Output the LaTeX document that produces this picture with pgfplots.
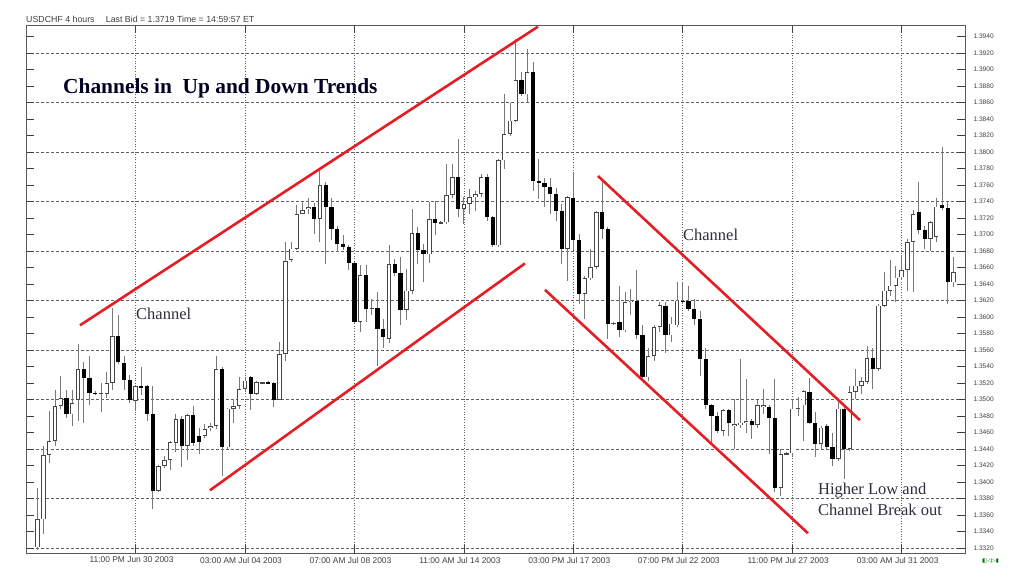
\documentclass[border=0pt]{standalone}
\usepackage{pgfplots}
\usepackage{pgfplotstable}
\pgfplotsset{compat=1.18}
\usepackage{fontspec}
\setmainfont{Liberation Sans}
\newfontfamily\seriffont{Liberation Serif}
\newfontfamily\symfont{DejaVu Sans}
\definecolor{chred}{RGB}{228,30,36}
\definecolor{wick}{RGB}{120,120,120}
\definecolor{upline}{RGB}{70,70,70}
\definecolor{txt}{RGB}{45,45,60}
\pgfplotstableread{
i o h l c
1 1.3321 1.3393 1.3318 1.3355
2 1.3355 1.3444 1.3337 1.3433
3 1.3433 1.3486 1.3423 1.3450
4 1.3450 1.3512 1.3444 1.3492
5 1.3492 1.3528 1.3488 1.3502
6 1.3502 1.3512 1.3478 1.3482
7 1.3482 1.3512 1.3468 1.3496
8 1.3500 1.3567 1.3474 1.3537
9 1.3537 1.3545 1.3472 1.3526
10 1.3526 1.3553 1.3494 1.3508
11 1.3508 1.3510 1.3506 1.3507
12 1.3507 1.3520 1.3485 1.3508
13 1.3507 1.3533 1.3502 1.3520
14 1.3520 1.3611 1.3512 1.3577
15 1.3577 1.3603 1.3543 1.3545
16 1.3545 1.3553 1.3512 1.3524
17 1.3524 1.3530 1.3496 1.3500
18 1.3498 1.3518 1.3486 1.3516
19 1.3516 1.3539 1.3506 1.3515
20 1.3516 1.3518 1.3474 1.3482
21 1.3482 1.3516 1.3367 1.3389
22 1.3389 1.3421 1.3388 1.3419
23 1.3420 1.3432 1.3417 1.3427
24 1.3427 1.3450 1.3415 1.3448
25 1.3448 1.3482 1.3436 1.3476
26 1.3476 1.3480 1.3418 1.3444
27 1.3444 1.3482 1.3427 1.3481
28 1.3481 1.3492 1.3444 1.3448
29 1.3456 1.3466 1.3434 1.3448
30 1.3456 1.3470 1.3454 1.3464
31 1.3466 1.3472 1.3462 1.3468
32 1.3468 1.3553 1.3464 1.3537
33 1.3537 1.3539 1.3408 1.3442
34 1.3442 1.3490 1.3440 1.3489
35 1.3489 1.3501 1.3472 1.3492
36 1.3492 1.3527 1.3489 1.3513
37 1.3513 1.3527 1.3510 1.3523
38 1.3527 1.3529 1.3487 1.3507
39 1.3507 1.3523 1.3505 1.3521
40 1.3520 1.3521 1.3519 1.3521
41 1.3521 1.3522 1.3519 1.3520
42 1.3520 1.3521 1.3491 1.3500
43 1.3500 1.3570 1.3499 1.3555
44 1.3555 1.3691 1.3547 1.3668
45 1.3669 1.3691 1.3667 1.3683
46 1.3683 1.3736 1.3681 1.3725
47 1.3725 1.3740 1.3725 1.3730
48 1.3731 1.3745 1.3725 1.3733
49 1.3733 1.3738 1.3701 1.3719
50 1.3719 1.3780 1.3691 1.3760
51 1.3760 1.3764 1.3665 1.3733
52 1.3733 1.3744 1.3693 1.3707
53 1.3707 1.3711 1.3679 1.3689
54 1.3689 1.3699 1.3681 1.3685
55 1.3685 1.3687 1.3657 1.3665
56 1.3665 1.3667 1.3592 1.3594
57 1.3594 1.3663 1.3582 1.3651
58 1.3651 1.3663 1.3594 1.3610
59 1.3610 1.3622 1.3602 1.3611
60 1.3611 1.3630 1.3541 1.3586
61 1.3586 1.3598 1.3563 1.3576
62 1.3574 1.3687 1.3568 1.3664
63 1.3664 1.3671 1.3650 1.3653
64 1.3653 1.3673 1.3590 1.3609
65 1.3609 1.3658 1.3596 1.3632
66 1.3632 1.3731 1.3628 1.3702
67 1.3702 1.3709 1.3664 1.3681
68 1.3681 1.3689 1.3642 1.3676
69 1.3676 1.3739 1.3666 1.3719
70 1.3719 1.3741 1.3699 1.3714
71 1.3714 1.3716 1.3713 1.3715
72 1.3715 1.3786 1.3713 1.3748
73 1.3748 1.3786 1.3745 1.3770
74 1.3770 1.3816 1.3721 1.3731
75 1.3731 1.3745 1.3713 1.3737
76 1.3737 1.3755 1.3725 1.3745
77 1.3745 1.3753 1.3729 1.3749
78 1.3749 1.3774 1.3745 1.3770
79 1.3770 1.3774 1.3717 1.3721
80 1.3721 1.3722 1.3685 1.3687
81 1.3687 1.3792 1.3685 1.3790
82 1.3790 1.3870 1.3780 1.3822
83 1.3822 1.3860 1.3820 1.3838
84 1.3838 1.3937 1.3836 1.3887
85 1.3887 1.3897 1.3868 1.3870
86 1.3870 1.3925 1.3860 1.3897
87 1.3897 1.3909 1.3753 1.3765
88 1.3765 1.3792 1.3743 1.3762
89 1.3762 1.3768 1.3733 1.3758
90 1.3758 1.3768 1.3725 1.3749
91 1.3749 1.3757 1.3717 1.3729
92 1.3729 1.3737 1.3664 1.3683
93 1.3683 1.3747 1.3644 1.3745
94 1.3745 1.3776 1.3681 1.3693
95 1.3693 1.3701 1.3616 1.3628
96 1.3628 1.3650 1.3598 1.3647
97 1.3647 1.3683 1.3645 1.3661
98 1.3661 1.3729 1.3658 1.3727
99 1.3727 1.3764 1.3695 1.3707
100 1.3707 1.3709 1.3574 1.3592
101 1.3592 1.3594 1.3590 1.3593
102 1.3594 1.3638 1.3576 1.3584
103 1.3584 1.3630 1.3582 1.3618
104 1.3618 1.3634 1.3602 1.3620
105 1.3620 1.3657 1.3574 1.3578
106 1.3578 1.3590 1.3525 1.3527
107 1.3527 1.3562 1.3523 1.3553
108 1.3553 1.3590 1.3547 1.3588
109 1.3588 1.3618 1.3582 1.3615
110 1.3614 1.3618 1.3557 1.3578
111 1.3578 1.3600 1.3570 1.3592
112 1.3590 1.3643 1.3588 1.3620
113 1.3620 1.3643 1.3616 1.3619
114 1.3619 1.3638 1.3608 1.3610
115 1.3610 1.3622 1.3590 1.3598
116 1.3598 1.3608 1.3529 1.3549
117 1.3549 1.3562 1.3489 1.3493
118 1.3493 1.3495 1.3448 1.3480
119 1.3480 1.3485 1.3460 1.3462
120 1.3462 1.3489 1.3456 1.3487
121 1.3487 1.3489 1.3456 1.3472
122 1.3468 1.3501 1.3440 1.3470
123 1.3470 1.3549 1.3466 1.3472
124 1.3472 1.3525 1.3460 1.3474
125 1.3474 1.3476 1.3452 1.3469
126 1.3469 1.3499 1.3466 1.3493
127 1.3491 1.3513 1.3483 1.3493
128 1.3491 1.3493 1.3434 1.3478
129 1.3478 1.3525 1.3388 1.3393
130 1.3393 1.3440 1.3383 1.3434
131 1.3434 1.3437 1.3433 1.3435
132 1.3435 1.3501 1.3432 1.3489
133 1.3489 1.3503 1.3480 1.3490
134 1.3493 1.3512 1.3450 1.3510
135 1.3509 1.3526 1.3470 1.3472
136 1.3472 1.3485 1.3430 1.3446
137 1.3446 1.3468 1.3440 1.3466
138 1.3468 1.3471 1.3440 1.3442
139 1.3442 1.3460 1.3420 1.3428
140 1.3428 1.3497 1.3426 1.3489
141 1.3489 1.3491 1.3404 1.3440
142 1.3440 1.3517 1.3438 1.3509
143 1.3509 1.3537 1.3501 1.3517
144 1.3517 1.3527 1.3507 1.3522
145 1.3521 1.3565 1.3519 1.3550
146 1.3550 1.3562 1.3513 1.3537
147 1.3537 1.3616 1.3535 1.3614
148 1.3614 1.3655 1.3612 1.3632
149 1.3632 1.3669 1.3626 1.3638
150 1.3638 1.3662 1.3618 1.3648
151 1.3648 1.3675 1.3645 1.3657
152 1.3657 1.3695 1.3632 1.3691
153 1.3691 1.3730 1.3630 1.3725
154 1.3727 1.3764 1.3701 1.3705
155 1.3705 1.3711 1.3683 1.3695
156 1.3695 1.3717 1.3680 1.3715
157 1.3697 1.3744 1.3691 1.3734
158 1.3736 1.3806 1.3730 1.3732
159 1.3732 1.3740 1.3616 1.3642
160 1.3642 1.3673 1.3636 1.3655
}\candles
\begin{document}
\begin{tikzpicture}
\fill[white] (-26pt,-26pt) rectangle (998pt,553pt);
\path[use as bounding box] (-26pt,-26pt) rectangle (998pt,553pt);
\begin{axis}[
  at={(0pt,0pt)}, anchor=south west,
  scale only axis, width=939pt, height=528pt,
  xmin=-1.03, xmax=162, ymin=1.3314, ymax=1.3954,
  axis line style={draw=black!65, line width=0.9pt},
  tick align=inside, major tick length=8pt,
  xtick pos=both, ytick pos=both,
  tick style={draw=black!75, line width=0.8pt},
  ytick={1.332,1.334,...,1.3941},
  yticklabel pos=right,
  minor ytick={1.332,1.338,...,1.3921},
  minor tick length=0pt,
  yminorgrids=true, ymajorgrids=false,
  minor grid style={draw=black!62, line width=0.7pt, dash pattern=on 2.6pt off 2.4pt},
  xtick={18,37,56,75,94,113,132,151},
  xticklabels={11:00 PM Jun 30 2003, 03:00 AM Jul 04 2003, 07:00 AM Jul 08 2003, 11:00 AM Jul 14 2003, 03:00 PM Jul 17 2003, 07:00 PM Jul 22 2003, 11:00 PM Jul 27 2003, 03:00 AM Jul 31 2003},
  xmajorgrids=true,
  major grid style={draw=black!62, line width=0.7pt, dash pattern=on 1pt off 1.6pt},
  /pgf/number format/assume math mode=true,
  yticklabel style={/pgf/number format/.cd, fixed, fixed zerofill, precision=4, /tikz/.cd,
    font=\fontsize{6.6}{7}\selectfont, text=black!75, xshift=5pt},
  xticklabel style={font=\fontsize{8.4}{9}\selectfont, text=black!75, yshift=-0.5pt, xshift=-4pt},
  clip=true,
]
% wicks
\addplot[draw=none, mark=none, forget plot,
  error bars/.cd, y dir=both, y explicit, error mark=none,
  error bar style={draw=wick, line width=0.9pt}]
  table[x=i, y expr={(\thisrow{h}+\thisrow{l})/2}, y error expr={(\thisrow{h}-\thisrow{l})/2}]{\candles};
% down bodies
\addplot[draw=none, mark=none, forget plot,
  error bars/.cd, y dir=both, y explicit, error mark=none,
  error bar style={draw=black, line width=4.2pt}]
  table[x=i, y expr={(\thisrow{o}+\thisrow{c})/2}, y error expr={max(\thisrow{o}-\thisrow{c},0)/2}]{\candles};
% up bodies outline
\addplot[draw=none, mark=none, forget plot,
  error bars/.cd, y dir=both, y explicit, error mark=none,
  error bar style={draw=upline, line width=4.4pt}]
  table[x=i, y expr={(\thisrow{o}+\thisrow{c})/2}, y error expr={max(\thisrow{c}-\thisrow{o},0)/2}]{\candles};
% up bodies inner
\addplot[draw=none, mark=none, forget plot,
  error bars/.cd, y dir=both, y explicit, error mark=none,
  error bar style={draw=white, line width=2.8pt}]
  table[x=i, y expr={(\thisrow{o}+\thisrow{c})/2}, y error expr={max((\thisrow{c}-\thisrow{o})/2-0.00009,0)}]{\candles};
% channel lines
\addplot[chred, line width=2.6pt, forget plot] coordinates {(8.34,1.3590) (87.86,1.3952)};
\addplot[chred, line width=2.6pt, forget plot] coordinates {(30.91,1.3390) (85.6,1.3665)};
\addplot[chred, line width=2.6pt, forget plot] coordinates {(98.27,1.3771) (143.76,1.3475)};
\addplot[chred, line width=2.6pt, forget plot] coordinates {(89.07,1.3633) (134.73,1.3338)};
% annotations
\node[anchor=west, inner sep=0pt, text=black!85!blue] at (axis cs:5.39,1.38776)
  {\seriffont\bfseries\fontsize{21.4}{23}\selectfont Channels in\ \ Up and Down Trends};
\node[anchor=west, inner sep=0pt, text=txt] at (axis cs:18.07,1.36036)
  {\seriffont\fontsize{16.5}{18}\selectfont Channel};
\node[anchor=west, inner sep=0pt, text=txt] at (axis cs:113.03,1.36994)
  {\seriffont\fontsize{16.5}{18}\selectfont Channel};
\node[anchor=west, inner sep=0pt, text=txt] at (axis cs:136.47,1.33903)
  {\seriffont\fontsize{16.5}{18}\selectfont Higher Low and};
\node[anchor=west, inner sep=0pt, text=txt] at (axis cs:136.47,1.33661)
  {\seriffont\fontsize{16.5}{18}\selectfont Channel Break out};
\end{axis}
\node[anchor=south west, inner sep=0pt, text=black!75] at (0pt,2.5pt+528pt)
  {\fontsize{8.8}{9}\selectfont USDCHF 4 hours\quad\ Last Bid = 1.3719 Time = 14:59:57 ET};
\node[anchor=west, inner sep=0pt, text=green!45!black] at (956pt,-8pt)
  {\symfont\fontsize{5.5}{6}\selectfont ◧◁▷▮};
\end{tikzpicture}
\end{document}
